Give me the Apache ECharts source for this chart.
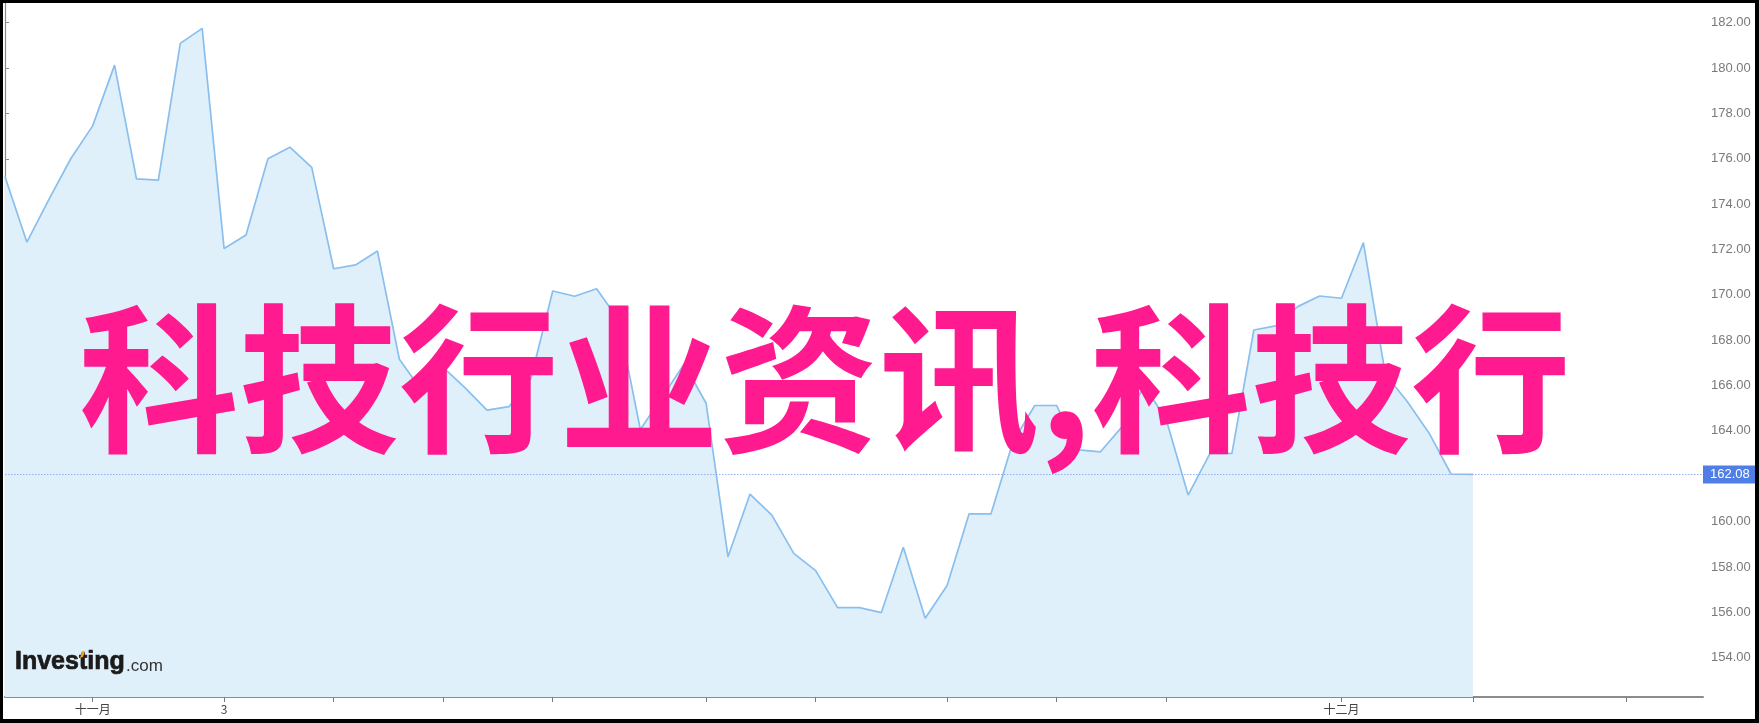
<!DOCTYPE html>
<html>
<head>
<meta charset="utf-8">
<script src="https://cdn.jsdelivr.net/npm/echarts@6.0.0/dist/echarts.min.js"></script>
<style>
html,body{margin:0;padding:0;background:#fff;}
#c{width:1759px;height:723px;}
</style>
</head>
<body>
<div id="c"></div>
<script>
// ---- data ----
const prices = [
  175.21, 172.32, 174.2, 176.0, 177.45, 180.13, 175.11, 175.06, 181.09, 181.75,
  172.04, 172.64, 176.0, 176.51, 175.62, 171.15, 171.32, 171.93, 167.16, 165.8,
  166.8, 165.9, 164.92, 165.07, 166.3, 170.17, 169.94, 170.27, 168.9, 164.06,
  165.5, 166.95, 165.22, 158.45, 161.21, 160.29, 158.6, 157.84, 156.21, 156.21,
  155.99, 158.87, 155.74, 157.18, 160.34, 160.34, 163.5, 165.12, 165.12, 163.16,
  163.08, 164.2, 166.0, 164.5, 161.17, 163.01, 163.01, 168.45, 168.63, 169.48,
  169.95, 169.85, 172.3, 166.5, 165.3, 163.9, 162.1, 162.08
];
const xTickIdx = [4, 10, 15, 20, 25, 32, 37, 43, 48, 53, 61, 67, 74];
const xLabelIdx = [4, 10, 61];
const xLabelText = ['十一月', '3', '十二月'];
const yTicks = [154, 156, 158, 160, 162, 164, 166, 168, 170, 172, 174, 176, 178, 180, 182];
const lastPrice = 162.08;
const overlayText = '科技行业资讯,科技行';
const logoMain = 'Investing';
const logoSuffix = '.com';

// ---- chart ----
const chart = echarts.init(document.getElementById('c'), null, {renderer: 'canvas'});
const seriesData = prices.map((v, i) => [i, v]);

const option = {
  animation: false,
  backgroundColor: '#ffffff',
  grid: {left: 5, right: 56, top: 3, bottom: 26, containLabel: false},
  xAxis: {
    type: 'value',
    min: 0,
    max: 77.5,
    splitLine: {show: false},
    axisLine: {show: true, lineStyle: {color: '#8c8c8c', width: 2}},
    axisTick: {show: true, customValues: xTickIdx, length: 5, lineStyle: {color: '#7a7a7a', width: 1}},
    axisLabel: {
      show: true,
      customValues: xLabelIdx,
      formatter: v => xLabelText[xLabelIdx.indexOf(v)] || '',
      color: '#444',
      fontSize: 12,
      fontFamily: '"Noto Sans CJK SC", "Liberation Sans", sans-serif',
      margin: 6
    }
  },
  yAxis: {
    type: 'value',
    position: 'right',
    min: 152.267,
    max: 182.869,
    splitLine: {show: false},
    axisLine: {show: true, lineStyle: {color: '#8c8c8c', width: 1.2}},
    axisTick: {show: true, customValues: yTicks, length: 4, lineStyle: {color: '#8c8c8c'}},
    axisLabel: {
      show: true,
      customValues: yTicks,
      formatter: v => v.toFixed(2),
      color: '#7a7a7a',
      fontSize: 13,
      fontFamily: '"Liberation Sans", Arial, sans-serif',
      margin: 8
    }
  },
  series: [{
    type: 'line',
    data: seriesData,
    showSymbol: false,
    symbol: 'none',
    lineStyle: {color: '#89bfee', width: 1.7},
    areaStyle: {color: '#e0f0fa', opacity: 1, origin: 'start'},
    silent: true,
    markLine: {
      silent: true,
      symbol: ['none', 'none'],
      data: [{yAxis: lastPrice}],
      lineStyle: {type: [1.5, 1.5], color: '#94aef2', width: 1},
      label: {
        show: true,
        position: 'end',
        distance: 0,
        formatter: lastPrice.toFixed(2),
        color: '#ffffff',
        backgroundColor: '#4f7fe6',
        padding: [3, 6, 2, 7],
        fontSize: 13,
        fontFamily: '"Liberation Sans", Arial, sans-serif'
      }
    }
  }],
  graphic: [
    {
      type: 'text', x: 15, y: 675, z: 60,
      style: {text: logoMain, font: 'bold 25px "Liberation Sans", Arial, sans-serif', fill: '#1b1b1b', stroke: '#1b1b1b', lineWidth: 0.7, verticalAlign: 'bottom', align: 'left'}
    },
    {
      type: 'text', x: 126, y: 675, z: 60,
      style: {text: logoSuffix, font: '17px "Liberation Sans", Arial, sans-serif', fill: '#333', verticalAlign: 'bottom', align: 'left'}
    },
    {
      type: 'polygon', z: 61,
      shape: {points: [[80, 658], [82, 652], [85, 651], [83, 657]]},
      style: {fill: '#f5a623'}
    },
    {
      type: 'text', x: 79, y: 379, z: 80,
      style: {text: overlayText, font: 'bold 160px "Noto Sans CJK SC", sans-serif', fill: '#ff1a8f', verticalAlign: 'middle', align: 'left'}
    },
    {type: 'rect', z: 100, shape: {x: 0, y: 0, width: 1759, height: 3}, style: {fill: '#000'}},
    {type: 'rect', z: 100, shape: {x: 0, y: 719, width: 1759, height: 4}, style: {fill: '#000'}},
    {type: 'rect', z: 100, shape: {x: 0, y: 0, width: 3, height: 723}, style: {fill: '#000'}},
    {type: 'rect', z: 100, shape: {x: 1755, y: 0, width: 4, height: 723}, style: {fill: '#000'}}
  ]
};
chart.setOption(option);
</script>
</body>
</html>
